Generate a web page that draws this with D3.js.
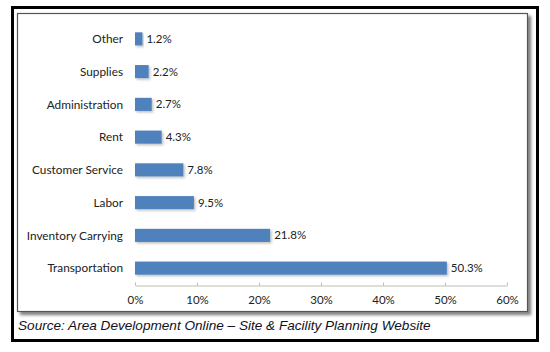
<!DOCTYPE html>
<html><head><meta charset="utf-8">
<script src="https://cdn.jsdelivr.net/npm/d3@7"></script>
<style>body{margin:0;background:#fff}</style>
</head><body><svg id="c" width="550" height="352"></svg>
<script>
const categories = ["Other","Supplies","Administration","Rent","Customer Service","Labor","Inventory Carrying","Transportation"];
const values = [1.2,2.2,2.7,4.3,7.8,9.5,21.8,50.3];
const ticks = [0,10,20,30,40,50,60];
const source = "Source: Area Development Online \u2013 Site & Facility Planning Website";

const svg = d3.select("#c");
const defs = svg.append("defs");
const f = defs.append("filter").attr("id","sh").attr("x","-10%").attr("y","-30%").attr("width","130%").attr("height","180%");
f.append("feDropShadow").attr("dx",1.5).attr("dy",1.5).attr("stdDeviation",1).attr("flood-color","#000").attr("flood-opacity",0.25);
const f2 = defs.append("filter").attr("id","fs").attr("x","-5%").attr("y","-5%").attr("width","115%").attr("height","115%");
f2.append("feDropShadow").attr("dx",3).attr("dy",3).attr("stdDeviation",1.5).attr("flood-color","#000").attr("flood-opacity",0.5);

// outer black border
svg.append("rect").attr("x",12.5).attr("y",7.5).attr("width",525).attr("height",333)
  .attr("fill","#fff").attr("stroke","#000").attr("stroke-width",3);
// inner frame
svg.append("rect").attr("x",17.5).attr("y",13.5).attr("width",510).attr("height",298)
  .attr("fill","#fff").attr("stroke","#555").attr("stroke-width",1.2).attr("filter","url(#fs)");

const x = d3.scaleLinear().domain([0,60]).range([135,507]);
const y = d3.scaleBand().domain(categories).range([22.5,284.5]).paddingInner(0.6).paddingOuter(0.3);

const font = "Lato, 'Open Sans', sans-serif";

// axis
const ax = svg.append("g").attr("transform","translate(0,285.5)")
  .call(d3.axisBottom(x).tickValues(ticks).tickSize(0).tickPadding(10).tickFormat(d=>d+"%"));
ax.select(".domain").attr("stroke","#bbb");
ax.selectAll(".tick line").attr("y2",-3).attr("stroke","#bbb");
ax.selectAll(".tick text").attr("font-family",font).attr("font-size","11.5px").attr("fill","#222");

// bars
svg.append("g").selectAll("rect").data(values).join("rect")
  .attr("x",x(0)).attr("y",(d,i)=>y(categories[i]))
  .attr("width",d=>x(d)-x(0)).attr("height",y.bandwidth())
  .attr("fill","#4F81BD").attr("filter","url(#sh)");

// category labels
svg.append("g").selectAll("text").data(categories).join("text")
  .attr("x",123).attr("y",d=>y(d)+y.bandwidth()/2).attr("dy","0.35em")
  .attr("text-anchor","end").attr("font-family",font).attr("font-size","11.8px").attr("fill","#222")
  .text(d=>d);

// value labels
svg.append("g").selectAll("text").data(values).join("text")
  .attr("x",d=>x(d)+4).attr("y",(d,i)=>y(categories[i])+y.bandwidth()/2).attr("dy","0.35em")
  .attr("font-family",font).attr("font-size","11.5px").attr("fill","#222")
  .text(d=>d.toFixed(1)+"%");

// source
svg.append("text").attr("x",18).attr("y",330)
  .attr("font-family","'Liberation Sans', Arial, sans-serif").attr("font-style","italic")
  .attr("font-size","13.6px").attr("fill","#111122").text(source);
</script></body></html>
